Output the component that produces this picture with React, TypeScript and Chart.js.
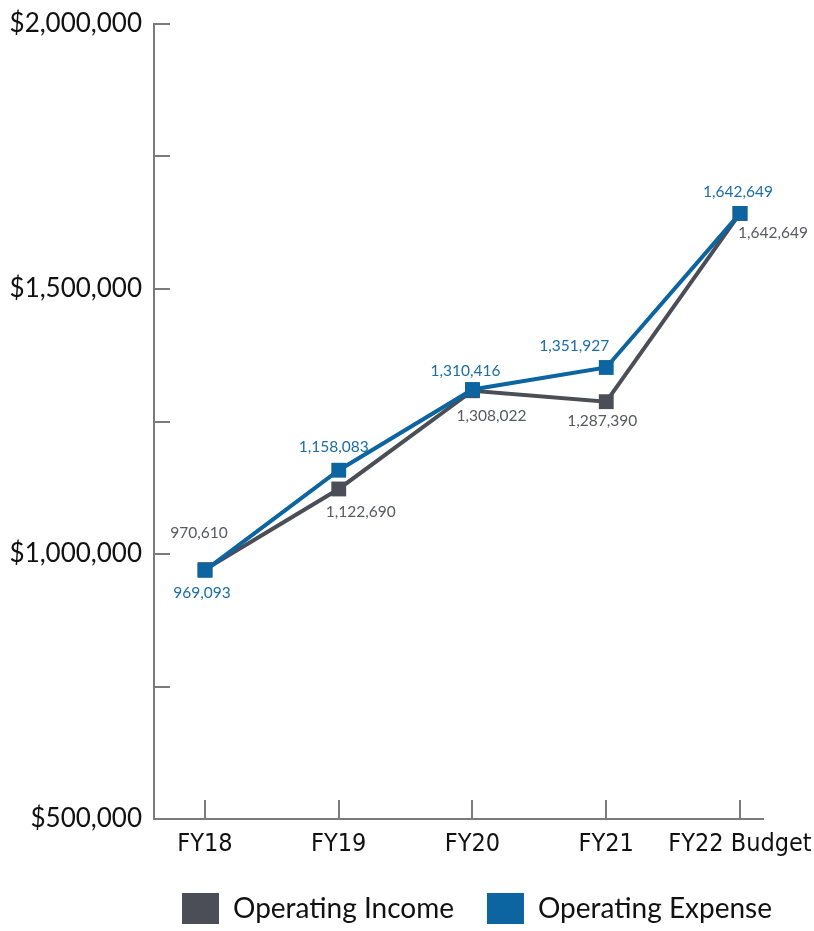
import { useEffect, useRef } from "react";
import { Chart, registerables } from "chart.js";

Chart.register(...registerables);

const categories = ["FY18", "FY19", "FY20", "FY21", "FY22 Budget"];
const seriesNames = ["Operating Income", "Operating Expense"];
const operatingIncome = [970610, 1122690, 1308022, 1287390, 1642649];
const operatingExpense = [969093, 1158083, 1310416, 1351927, 1642649];
const yTickValues = [500000, 750000, 1000000, 1250000, 1500000, 1750000, 2000000];
const yTickLabels = ["$500,000", "", "$1,000,000", "", "$1,500,000", "", "$2,000,000"];

const INCOME_COLOR = "#4b4e57";
const EXPENSE_COLOR = "#0c64a0";
const INCOME_LABEL = "#575a60";
const EXPENSE_LABEL = "#1b6ea6";
const AXIS_COLOR = "#7b7b7b";

// label offsets (px) relative to each point: [dx, dy]
const incomeLabelOffsets = [[-6, -37], [22, 23], [19, 25], [-4, 19], [33, 20]];
const expenseLabelOffsets = [[-3, 23], [-5, -23], [-7, -18], [-32, -21], [-2, -21]];

const inwardTicks = {
  id: "inwardTicks",
  beforeDatasetsDraw(chart: any) {
    const { ctx } = chart;
    const x = chart.scales.x;
    const y = chart.scales.y;
    ctx.save();
    ctx.strokeStyle = AXIS_COLOR;
    ctx.lineWidth = 2;
    y.ticks.forEach((t: any) => {
      const py = Math.round(y.getPixelForValue(t.value));
      ctx.beginPath();
      ctx.moveTo(y.right, py);
      ctx.lineTo(y.right + 16, py);
      ctx.stroke();
    });
    x.ticks.forEach((t: any) => {
      const px = Math.round(x.getPixelForValue(t.value));
      ctx.beginPath();
      ctx.moveTo(px, x.top);
      ctx.lineTo(px, x.top - 19);
      ctx.stroke();
    });
    ctx.restore();
  },
};

const pointLabels = {
  id: "pointLabels",
  afterDatasetsDraw(chart: any) {
    const { ctx } = chart;
    ctx.save();
    ctx.font = "15.5px Lato";
    ctx.textAlign = "center";
    ctx.textBaseline = "middle";
    chart.data.datasets.forEach((ds: any, di: number) => {
      const meta = chart.getDatasetMeta(di);
      const offs = di === 0 ? incomeLabelOffsets : expenseLabelOffsets;
      ctx.fillStyle = di === 0 ? INCOME_LABEL : EXPENSE_LABEL;
      meta.data.forEach((el: any, i: number) => {
        const v = ds.data[i].y as number;
        ctx.fillText(v.toLocaleString("en-US"), el.x + offs[i][0], el.y + offs[i][1]);
      });
    });
    ctx.restore();
  },
};

const legendPlacement = {
  id: "legendPlacement",
  afterLayout(chart: any) {
    const lg = chart.legend;
    if (!lg) return;
    const dx = 149;
    const dy = 3;
    lg.left += dx;
    lg.right += dx;
    lg.top += dy;
    lg.bottom += dy;
  },
};

export default function App() {
  const ref = useRef<HTMLCanvasElement | null>(null);

  useEffect(() => {
    if (!ref.current) return;
    const chart = new Chart(ref.current, {
      type: "line",
      data: {
        datasets: [
          {
            label: seriesNames[0],
            data: operatingIncome.map((v, i) => ({ x: i, y: v })),
            borderColor: INCOME_COLOR,
            backgroundColor: INCOME_COLOR,
            borderWidth: 4,
            pointStyle: "rect",
            pointRadius: 10.5,
            pointBorderWidth: 0,
            tension: 0,
            order: 1,
          },
          {
            label: seriesNames[1],
            data: operatingExpense.map((v, i) => ({ x: i, y: v })),
            borderColor: EXPENSE_COLOR,
            backgroundColor: EXPENSE_COLOR,
            borderWidth: 4,
            pointStyle: "rect",
            pointRadius: 10.5,
            pointBorderWidth: 0,
            tension: 0,
            order: 0,
          },
        ],
      },
      options: {
        animation: false,
        responsive: true,
        maintainAspectRatio: false,
        layout: { padding: { top: 24, right: 51, bottom: 0, left: 0 } },
        scales: {
          x: {
            type: "linear",
            min: -0.3813,
            max: 4.172,
            afterBuildTicks: (scale: any) => {
              scale.ticks = categories.map((_, i) => ({ value: i }));
            },
            afterFit: (scale: any) => {
              scale.height = 38;
              scale.paddingLeft = 0;
              scale.paddingRight = 0;
            },
            ticks: {
              autoSkip: false,
              maxRotation: 0,
              padding: 10,
              color: "#111",
              font: { family: "'DejaVu Sans Condensed', 'Liberation Sans'", size: 25 },
              callback: (v: any) => categories[v as number] ?? "",
            },
            grid: { drawOnChartArea: false, drawTicks: false },
            border: { display: true, color: AXIS_COLOR, width: 2 },
          },
          y: {
            min: 500000,
            max: 2000000,
            afterBuildTicks: (scale: any) => {
              scale.ticks = yTickValues.map((v) => ({ value: v }));
            },
            afterFit: (scale: any) => {
              scale.width = 154;
              scale.paddingTop = 0;
              scale.paddingBottom = 0;
            },
            ticks: {
              padding: 12,
              color: "#111",
              font: { family: "Lato", size: 26 },
              callback: (v: any) => {
                const idx = yTickValues.indexOf(v as number);
                return idx >= 0 ? yTickLabels[idx] : "";
              },
            },
            grid: { drawOnChartArea: false, drawTicks: false },
            border: { display: true, color: AXIS_COLOR, width: 2 },
          },
        },
        plugins: {
          tooltip: { enabled: false },
          legend: {
            position: "bottom",
            align: "start",
            labels: {
              boxWidth: 37,
              boxHeight: 31,
              padding: 33,
              color: "#111",
              font: { family: "Lato", size: 28 },
              sort: (a: any, b: any) => a.datasetIndex - b.datasetIndex,
              generateLabels: (c: any) =>
                Chart.defaults.plugins.legend.labels
                  .generateLabels(c)
                  .map((l: any) => ({ ...l, lineWidth: 0 })),
            },
          },
        },
      },
      plugins: [inwardTicks, pointLabels, legendPlacement],
    });
    return () => chart.destroy();
  }, []);

  return (
    <div style={{ position: "fixed", left: 0, top: 0, width: 814, height: 931, background: "#fff" }}>
      <canvas ref={ref} />
    </div>
  );
}
